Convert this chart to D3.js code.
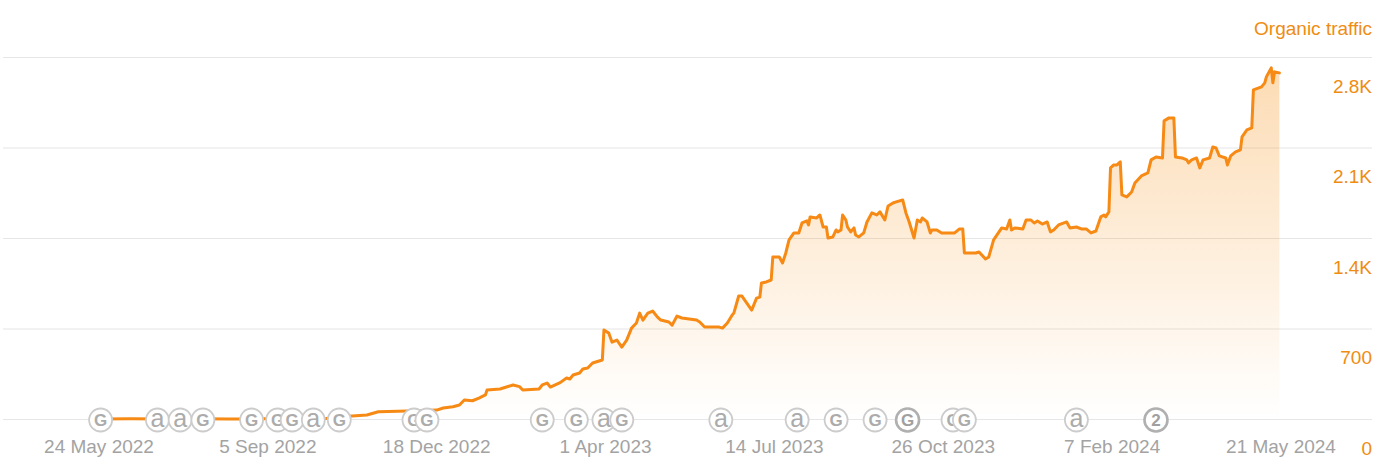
<!DOCTYPE html>
<html>
<head>
<meta charset="utf-8">
<script src="https://cdn.jsdelivr.net/npm/d3@7"></script>
<style>
  html, body { margin: 0; padding: 0; background: #fff; }
  svg { display: block; font-family: "Liberation Sans", Arial, sans-serif; }
</style>
</head>
<body>
<svg id="chart" width="1391" height="474"></svg>
<script>
// ---- DATA ----
const startDate = "2022-05-24";
// day offsets from startDate for each observation
const dayOffsets = [0, 20, 40, 60, 80, 100, 120, 140, 148, 156, 165, 172, 190, 208, 212, 218, 222, 225, 230, 234, 238, 239, 247, 255, 259, 261, 271, 273, 276, 278, 284, 288, 290, 292, 296, 298, 301, 304, 306, 310, 311, 314, 316, 319, 322, 325, 328, 331, 333, 335, 338, 341, 344, 346, 351, 353, 356, 359, 368, 370, 373, 382, 384, 387, 390, 391, 394, 396, 399, 402, 405, 407, 408, 411, 414, 415, 419, 421, 423, 425, 428, 431, 433, 436, 437, 438, 442, 444, 446, 448, 449, 452, 454, 455, 457, 458, 460, 461, 463, 465, 466, 468, 471, 473, 476, 479, 481, 484, 486, 489, 491, 495, 497, 499, 502, 504, 506, 507, 510, 512, 513, 516, 519, 527, 530, 532, 533, 540, 542, 546, 548, 551, 556, 559, 561, 562, 564, 569, 571, 574, 576, 578, 581, 584, 586, 588, 591, 596, 598, 602, 605, 608, 611, 614, 617, 619, 620, 622, 623, 625, 627, 629, 630, 633, 636, 638, 642, 646, 648, 651, 655, 656, 659, 662, 663, 667, 670, 671, 673, 676, 678, 680, 684, 686, 688, 690, 694, 695, 697, 700, 703, 704, 707, 710, 711, 716, 718, 719, 722, 723, 724, 727];
const traffic = [4, 5, 4, 5, 4, 5, 6, 8, 22, 27, 35, 60, 66, 73, 89, 99, 112, 151, 145, 166, 190, 228, 236, 267, 254, 228, 236, 267, 282, 251, 285, 321, 313, 344, 360, 391, 398, 437, 445, 460, 692, 668, 598, 614, 560, 614, 707, 746, 823, 769, 823, 839, 792, 769, 754, 730, 800, 785, 769, 754, 715, 715, 707, 746, 808, 823, 955, 955, 900, 846, 939, 947, 1056, 1064, 1079, 1257, 1257, 1211, 1288, 1389, 1443, 1443, 1520, 1536, 1505, 1567, 1559, 1582, 1489, 1489, 1404, 1412, 1466, 1451, 1466, 1582, 1543, 1489, 1451, 1482, 1427, 1412, 1443, 1528, 1598, 1582, 1606, 1543, 1652, 1675, 1683, 1698, 1598, 1528, 1404, 1543, 1528, 1559, 1528, 1443, 1466, 1466, 1443, 1443, 1474, 1474, 1288, 1288, 1296, 1242, 1257, 1389, 1482, 1474, 1543, 1466, 1482, 1474, 1543, 1543, 1520, 1536, 1512, 1528, 1451, 1466, 1505, 1528, 1482, 1489, 1474, 1474, 1443, 1458, 1567, 1582, 1567, 1606, 1946, 1969, 1969, 1993, 1737, 1722, 1760, 1830, 1884, 1907, 2008, 2031, 2023, 2310, 2333, 2333, 2031, 2023, 2008, 1985, 2008, 2023, 1946, 2008, 2023, 2108, 2100, 2039, 2023, 1969, 2039, 2070, 2085, 2186, 2240, 2256, 2550, 2573, 2604, 2650, 2720, 2604, 2689, 2681];

const yTickValues = [0, 700, 1400, 2100, 2800];
const yTickLabels = ["0", "700", "1.4K", "2.1K", "2.8K"];
const xTickLabels = ["24 May 2022", "5 Sep 2022", "18 Dec 2022", "1 Apr 2023", "14 Jul 2023", "26 Oct 2023", "7 Feb 2024", "21 May 2024"];

// annotation markers (day offsets from startDate) and their glyphs
const markerDays = [1, 36, 50, 64, 94, 110, 119, 132, 148, 194, 202, 273, 294, 311, 322, 383, 430, 454, 478, 498, 526, 533, 602, 651];
const markerLabels = ["G", "a", "a", "G", "G", "G", "G", "a", "G", "G", "G", "G", "G", "a", "G", "a", "a", "G", "G", "G", "G", "G", "a", "2"];
const markerStrong = [false, false, false, false, false, false, false, false, false, false, false, false, false, false, false, false, false, false, false, true, false, false, false, true];

const seriesName = "Organic traffic";

// ---- CHART ----
const svg = d3.select("#chart");
const parseISO = d3.utcParse("%Y-%m-%d");
const parseTick = d3.utcParse("%d %b %Y");
const start = parseISO(startDate);
const data = dayOffsets.map((d, i) => ({ date: d3.utcDay.offset(start, d), value: traffic[i] }));
const tickDates = xTickLabels.map(s => parseTick(s));

const gridLeft = 3, gridRight = 1372;
const x = d3.scaleUtc()
  .domain([tickDates[0], tickDates[tickDates.length - 1]])
  .range([99, 1281]);
const y = d3.scaleLinear().domain([0, 2800]).range([419.5, 57.5]);

const orange = "#f68a14";
const labelOrange = "#ef8c12";

// gradient
const defs = svg.append("defs");
const grad = defs.append("linearGradient")
  .attr("id", "areaGrad")
  .attr("gradientUnits", "userSpaceOnUse")
  .attr("x1", 0).attr("x2", 0)
  .attr("y1", y(2800)).attr("y2", y(0));
grad.append("stop").attr("offset", "0%").attr("stop-color", "#f7941d").attr("stop-opacity", 0.34);
grad.append("stop").attr("offset", "100%").attr("stop-color", "#f7941d").attr("stop-opacity", 0.0);

// grid lines
svg.append("g").selectAll("line")
  .data(yTickValues)
  .join("line")
  .attr("x1", gridLeft).attr("x2", gridRight)
  .attr("y1", d => y(d)).attr("y2", d => y(d))
  .attr("stroke", "#e6e6e6").attr("stroke-width", 1.2);

// y labels (right side)
svg.append("g").selectAll("text")
  .data(yTickValues)
  .join("text")
  .attr("x", gridRight)
  .attr("y", d => y(d) + 35)
  .attr("text-anchor", "end")
  .attr("font-size", 19)
  .attr("fill", labelOrange)
  .text((d, i) => yTickLabels[i]);

// series title
svg.append("text")
  .attr("x", gridRight).attr("y", 35)
  .attr("text-anchor", "end")
  .attr("font-size", 19)
  .attr("fill", labelOrange)
  .text(seriesName);

// x labels
svg.append("g").selectAll("text")
  .data(tickDates)
  .join("text")
  .attr("x", d => x(d))
  .attr("y", 453)
  .attr("text-anchor", "middle")
  .attr("font-size", 19)
  .attr("fill", "#a3a3a3")
  .text((d, i) => xTickLabels[i]);

// area
const area = d3.area()
  .x(d => x(d.date))
  .y0(y(0))
  .y1(d => y(d.value));
svg.append("path")
  .datum(data)
  .attr("d", area)
  .attr("fill", "url(#areaGrad)");

// line
const line = d3.line()
  .x(d => x(d.date))
  .y(d => y(d.value));
svg.append("path")
  .datum(data)
  .attr("d", line)
  .attr("fill", "none")
  .attr("stroke", orange)
  .attr("stroke-width", 3)
  .attr("stroke-linejoin", "round")
  .attr("stroke-linecap", "round");

// markers
const markers = markerDays.map((d, i) => ({ date: d3.utcDay.offset(start, d), label: markerLabels[i], strong: markerStrong[i] }));
const mg = svg.append("g").selectAll("g")
  .data(markers)
  .join("g")
  .attr("transform", d => `translate(${x(d.date)},${y(0) + 0.5})`);
mg.append("circle")
  .attr("r", 11.5)
  .attr("fill", "#fff")
  .attr("stroke", d => d.strong ? "#b0b0b0" : "#cccccc")
  .attr("stroke-width", d => d.strong ? 2.6 : 1.8);
mg.append("text")
  .attr("text-anchor", "middle")
  .attr("dy", d => d.label === "a" ? 6.5 : 6)
  .attr("font-size", d => d.label === "a" ? 25 : 17)
  .attr("font-weight", d => d.label === "a" ? "normal" : "bold")
  .attr("fill", d => d.strong ? "#a0a0a0" : "#ababab")
  .text(d => d.label);
</script>
</body>
</html>
